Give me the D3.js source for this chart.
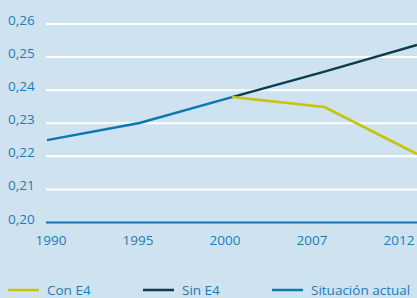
<!DOCTYPE html>
<html>
<head>
<meta charset="utf-8">
<script src="https://cdn.jsdelivr.net/npm/d3@7"></script>
<style>
  body { margin: 0; background: #cee2f0; }
  svg { display: block; font-family: "Open Sans", sans-serif; }
</style>
</head>
<body>
<svg id="chart"></svg>
<script>
// Data
const years = ["1990", "1995", "2000", "2007", "2012"];
const yTicks = [0.20, 0.21, 0.22, 0.23, 0.24, 0.25, 0.26];
const actual = [0.2249, 0.2301, 0.2379, null, null];
const sinE4 = [null, null, 0.2379, 0.2456, 0.2537];
const conE4 = [null, null, 0.2379, 0.2349, 0.2207];

const legendItems = [
  { label: "Con E4", color: "#c9c300" },
  { label: "Sin E4", color: "#0b3d4c" },
  { label: "Situación actual", color: "#0a78b3" }
];
const series = [
  { values: actual, color: "#0a78b3" },
  { values: sinE4, color: "#0b3d4c" },
  { values: conE4, color: "#c9c300" }
];

const width = 417,
  height = 298;
const textColor = "#1a7db9";

const svg = d3.select("#chart").attr("width", width).attr("height", height);

// y scale
const y = d3.scaleLinear().domain([0.20, 0.26]).range([222.5, 24]);

// x scale for tick labels, and one for the lines (they run edge to edge)
const xLabel = d3.scalePoint().domain(years).range([51, 399]);
const xLine = d3.scalePoint().domain(years).range([47, 417]);

// gridlines
svg
  .selectAll(".grid")
  .data(yTicks.slice(1))
  .enter()
  .append("line")
  .attr("x1", 46)
  .attr("x2", width)
  .attr("y1", (d) => y(d))
  .attr("y2", (d) => y(d))
  .attr("stroke", "#ffffff")
  .attr("stroke-width", 2);

// baseline
svg
  .append("line")
  .attr("x1", 46)
  .attr("x2", width)
  .attr("y1", y(0.20))
  .attr("y2", y(0.20))
  .attr("stroke", "#0a78b3")
  .attr("stroke-width", 2);

// y labels
svg
  .selectAll(".ylab")
  .data(yTicks)
  .enter()
  .append("text")
  .attr("x", 8)
  .attr("y", (d) => y(d) + 1)
  .attr("font-size", 13.5)
  .attr("fill", textColor)
  .text((d) => d3.format(".2f")(d).replace(".", ","));

// x labels
svg
  .selectAll(".xlab")
  .data(years)
  .enter()
  .append("text")
  .attr("x", (d) => xLabel(d))
  .attr("y", 245)
  .attr("text-anchor", "middle")
  .attr("font-size", 13.5)
  .attr("fill", textColor)
  .text((d) => d);

// lines
const line = d3
  .line()
  .defined((d) => d != null)
  .x((d, i) => xLine(years[i]))
  .y((d) => y(d));

series.forEach((s) => {
  svg
    .append("path")
    .attr("d", line(s.values))
    .attr("fill", "none")
    .attr("stroke", s.color)
    .attr("stroke-width", 2.5);
});

// legend
const legendX = [8, 143, 272];
const legend = svg
  .selectAll(".legend")
  .data(legendItems)
  .enter()
  .append("g")
  .attr("transform", (d, i) => `translate(${legendX[i]},290)`);

legend
  .append("line")
  .attr("x1", 0)
  .attr("x2", 31)
  .attr("stroke", (d) => d.color)
  .attr("stroke-width", 2.5);

legend
  .append("text")
  .attr("x", 39)
  .attr("y", 5)
  .attr("font-size", 13.5)
  .attr("fill", textColor)
  .text((d) => d.label);
</script>
</body>
</html>
